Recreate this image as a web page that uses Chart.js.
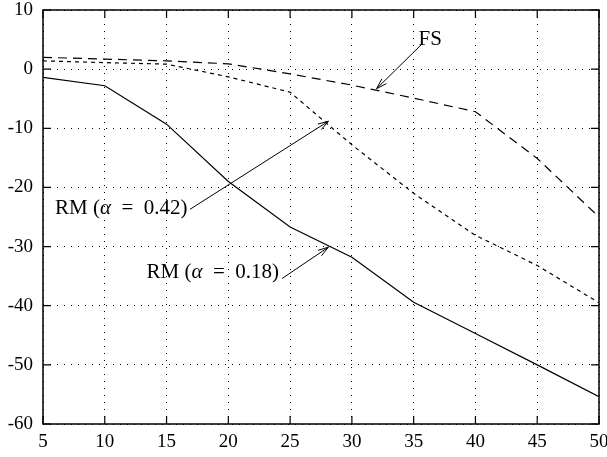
<!DOCTYPE html>
<html>
<head>
<meta charset="utf-8">
<script src="https://cdn.jsdelivr.net/npm/chart.js@4/dist/chart.umd.min.js"></script>
<style>
  html, body { margin: 0; padding: 0; background: #fff; }
</style>
</head>
<body>
<canvas id="chart" width="607" height="457"></canvas>
<script>
// data
const xValues = [5, 10, 15, 20, 25, 30, 35, 40, 45, 50];
const rm018 = [-1.4, -2.8, -9.3, -19.0, -26.7, -31.8, -39.4, -44.7, -50.0, -55.4];
const rm042 = [1.4, 1.1, 0.85, -1.3, -3.9, -12.8, -21.0, -28.1, -33.2, -39.5];
const fsValues = [2.0, 1.7, 1.4, 0.9, -0.8, -2.7, -4.9, -7.2, -15.1, -25.0];
const xTicks = [5, 10, 15, 20, 25, 30, 35, 40, 45, 50];
const yTicks = [-60, -50, -40, -30, -20, -10, 0, 10];

// annotation labels + arrows, in data units
const labels = [
    { parts: [['FS', false]], x: 35.4, y: 5.0, align: 'left' },
    { parts: [['RM (', false], ['α', true], ['  =  0.42)', false]], x: 16.7, y: -23.5, align: 'right' },
    { parts: [['RM (', false], ['α', true], ['  =  0.18)', false]], x: 24.1, y: -34.4, align: 'right' }
];
const arrows = [
    { from: [35.6, 4.1], to: [32.0, -3.3] },
    { from: [16.9, -23.7], to: [28.1, -8.8] },
    { from: [24.35, -35.4], to: [28.1, -30.1] }
];

const FONT = '"Liberation Serif", "DejaVu Serif", serif';
Chart.defaults.font.family = FONT;

function pts(ys) {
    return xValues.map((x, i) => ({ x: x, y: ys[i] }));
}

const framePlugin = {
    id: 'frame',
    afterDraw(chart) {
        const ctx = chart.ctx;
        const a = chart.chartArea;
        const xs = chart.scales.x, ys = chart.scales.y;
        ctx.save();
        ctx.strokeStyle = '#000';
        ctx.lineWidth = 1.5;
        ctx.setLineDash([]);
        ctx.strokeRect(a.left, a.top, a.right - a.left, a.bottom - a.top);
        ctx.lineWidth = 1.2;
        ctx.beginPath();
        xTicks.forEach(t => {
            const px = xs.getPixelForValue(t);
            ctx.moveTo(px, a.bottom); ctx.lineTo(px, a.bottom - 8);
            ctx.moveTo(px, a.top); ctx.lineTo(px, a.top + 8);
        });
        yTicks.forEach(t => {
            const py = ys.getPixelForValue(t);
            ctx.moveTo(a.left, py); ctx.lineTo(a.left + 8, py);
            ctx.moveTo(a.right, py); ctx.lineTo(a.right - 8, py);
        });
        ctx.stroke();

        // arrows
        ctx.lineWidth = 1;
        arrows.forEach(ar => {
            const x1 = xs.getPixelForValue(ar.from[0]), y1 = ys.getPixelForValue(ar.from[1]);
            const x2 = xs.getPixelForValue(ar.to[0]), y2 = ys.getPixelForValue(ar.to[1]);
            const ang = Math.atan2(y2 - y1, x2 - x1);
            ctx.beginPath();
            ctx.moveTo(x1, y1); ctx.lineTo(x2, y2);
            [0.3, -0.3].forEach(d => {
                ctx.moveTo(x2, y2);
                ctx.lineTo(x2 - 11 * Math.cos(ang + d), y2 - 11 * Math.sin(ang + d));
            });
            ctx.stroke();
        });

        // labels
        ctx.fillStyle = '#000';
        ctx.textBaseline = 'middle';
        ctx.textAlign = 'left';
        labels.forEach(lb => {
            const fonts = lb.parts.map(p => (p[1] ? 'italic ' : '') + '21px ' + FONT);
            let w = 0;
            lb.parts.forEach((p, i) => { ctx.font = fonts[i]; w += ctx.measureText(p[0]).width; });
            let px = xs.getPixelForValue(lb.x);
            const py = ys.getPixelForValue(lb.y);
            if (lb.align === 'right') px -= w;
            lb.parts.forEach((p, i) => {
                ctx.font = fonts[i];
                ctx.fillText(p[0], px, py);
                px += ctx.measureText(p[0]).width;
            });
        });
        ctx.restore();
    }
};

new Chart(document.getElementById('chart').getContext('2d'), {
    type: 'line',
    data: {
        datasets: [
            { label: 'RM (α = 0.18)', data: pts(rm018), borderColor: '#000', borderWidth: 1.2, pointRadius: 0, fill: false, tension: 0 },
            { label: 'RM (α = 0.42)', data: pts(rm042), borderColor: '#000', borderWidth: 1.2, borderDash: [4, 4], pointRadius: 0, fill: false, tension: 0 },
            { label: 'FS', data: pts(fsValues), borderColor: '#000', borderWidth: 1.2, borderDash: [9, 6], pointRadius: 0, fill: false, tension: 0 }
        ]
    },
    options: {
        responsive: false,
        animation: false,
        layout: { padding: { left: 0, right: 8, top: 10, bottom: 0 } },
        plugins: { legend: { display: false }, tooltip: { enabled: false } },
        scales: {
            x: {
                type: 'linear', min: 5, max: 50,
                afterFit: s => { s.height = 33; s.paddingLeft = 0; s.paddingRight = 0; },
                afterBuildTicks: s => { s.ticks = xTicks.map(v => ({ value: v })); },
                ticks: { color: '#000', font: { family: FONT, size: 19 }, padding: 7, maxRotation: 0 },
                grid: { color: '#000', lineWidth: 1, drawTicks: false },
                border: { display: false, dash: [1, 6] }
            },
            y: {
                min: -60, max: 10,
                afterFit: s => { s.width = 43; s.paddingTop = 0; s.paddingBottom = 0; },
                afterBuildTicks: s => { s.ticks = yTicks.map(v => ({ value: v })); },
                ticks: { color: '#000', font: { family: FONT, size: 19 }, padding: 10 },
                grid: { color: '#000', lineWidth: 1, drawTicks: false },
                border: { display: false, dash: [1, 6] }
            }
        }
    },
    plugins: [framePlugin]
});
</script>
</body>
</html>
